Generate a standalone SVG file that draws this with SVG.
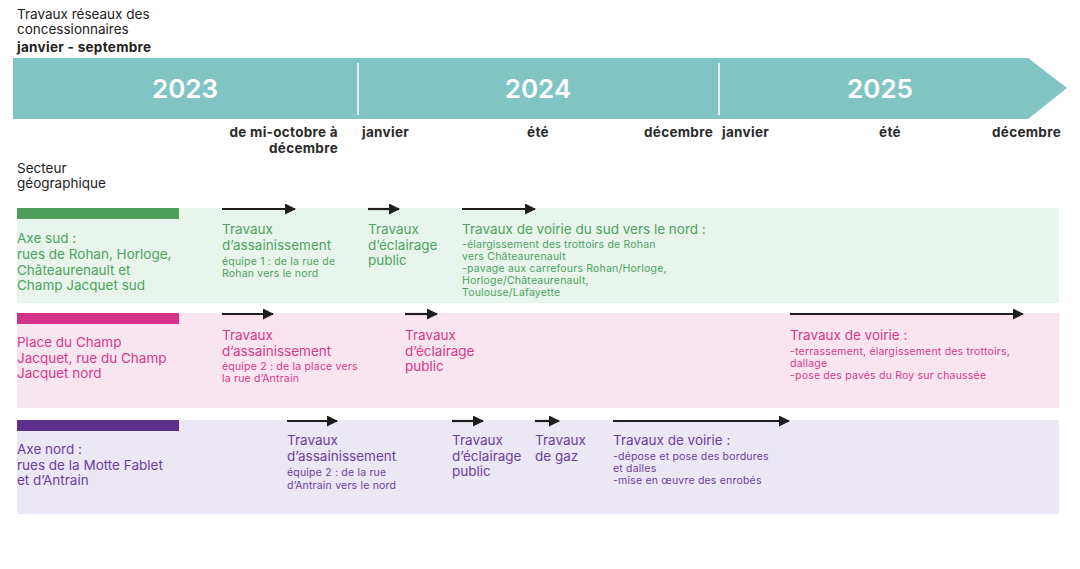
<svg xmlns="http://www.w3.org/2000/svg" width="1080" height="569" viewBox="0 0 1080 569">
<style>
text{font-family:Inter,"Noto Sans","Liberation Sans",sans-serif;}
.hdr{font-size:13.5px;fill:#222;}
.b{font-weight:700;letter-spacing:0.3px;}
.yr{font-size:26px;font-weight:600;fill:#fff;text-anchor:middle;}
.mo{font-size:13.5px;font-weight:700;fill:#2a2a2a;letter-spacing:0.3px;}
.t{font-size:13.5px;}
.s{font-size:10.5px;letter-spacing:0.2px;}
.g{fill:#4ea35e;}
.p{fill:#d6398c;}
.v{fill:#6b3f9c;}
.arr{stroke:#1e1e1e;stroke-width:2.2;fill:none;marker-end:url(#ah);}
</style>
<defs>
<marker id="ah" markerWidth="11" markerHeight="11" refX="10" refY="5.5" orient="auto" markerUnits="userSpaceOnUse">
<path d="M0,0 L11,5.5 L0,11 Z" fill="#1e1e1e"/>
</marker>
</defs>
<rect width="1080" height="569" fill="#fff"/>
<g id="header">
<text class="hdr" x="17" y="19">Travaux réseaux des</text>
<text class="hdr" x="17" y="34">concessionnaires</text>
<text class="hdr b" x="17" y="52">janvier - septembre</text>
<text class="hdr" x="17" y="173">Secteur</text>
<text class="hdr" x="17" y="188">géographique</text>
</g>
<g id="banner">
<path d="M13,58 L1028,58 L1067,88 L1028,119 L13,119 Z" fill="#80c4c4"/>
<line x1="358" y1="63" x2="358" y2="115" stroke="#fff" stroke-width="1.5"/>
<line x1="719" y1="63" x2="719" y2="115" stroke="#fff" stroke-width="1.5"/>
<text class="yr" x="185" y="98">2023</text>
<text class="yr" x="538" y="98">2024</text>
<text class="yr" x="880" y="98">2025</text>
</g>
<g id="months">
<text class="mo" x="338" y="137" text-anchor="end">de mi-octobre à</text>
<text class="mo" x="338" y="153" text-anchor="end">décembre</text>
<text class="mo" x="362" y="137">janvier</text>
<text class="mo" x="538" y="137" text-anchor="middle">été</text>
<text class="mo" x="713" y="137" text-anchor="end">décembre</text>
<text class="mo" x="722" y="137">janvier</text>
<text class="mo" x="890" y="137" text-anchor="middle">été</text>
<text class="mo" x="1061" y="137" text-anchor="end">décembre</text>
</g>
<g id="row-sud">
<rect x="17" y="208" width="1042" height="95" fill="#e7f5ec"/>
<rect x="17" y="208" width="162" height="11" fill="#4e9e5c"/>
<text class="t g" x="17" y="243">Axe sud :</text>
<text class="t g" x="17" y="259">rues de Rohan, Horloge,</text>
<text class="t g" x="17" y="275">Châteaurenault et</text>
<text class="t g" x="17" y="290">Champ Jacquet sud</text>
<text class="t g" x="222" y="234">Travaux</text>
<text class="t g" x="222" y="250">d’assainissement</text>
<text class="s g" x="222" y="265">équipe 1 : de la rue de</text>
<text class="s g" x="222" y="277">Rohan vers le nord</text>
<text class="t g" x="368" y="234">Travaux</text>
<text class="t g" x="368" y="250">d’éclairage</text>
<text class="t g" x="368" y="265">public</text>
<text class="t g" x="462" y="234">Travaux de voirie du sud vers le nord :</text>
<text class="s g" x="462" y="248">-élargissement des trottoirs de Rohan</text>
<text class="s g" x="462" y="260">vers Châteaurenault</text>
<text class="s g" x="462" y="272">-pavage aux carrefours Rohan/Horloge,</text>
<text class="s g" x="462" y="284">Horloge/Châteaurenault,</text>
<text class="s g" x="462" y="296">Toulouse/Lafayette</text>
</g>
<g id="row-champ">
<rect x="17" y="313" width="1042" height="95" fill="#f9e5f0"/>
<rect x="17" y="313" width="162" height="11" fill="#d5338a"/>
<text class="t p" x="17" y="347">Place du Champ</text>
<text class="t p" x="17" y="363">Jacquet, rue du Champ</text>
<text class="t p" x="17" y="378">Jacquet nord</text>
<text class="t p" x="222" y="340">Travaux</text>
<text class="t p" x="222" y="356">d’assainissement</text>
<text class="s p" x="222" y="370">équipe 2 : de la place vers</text>
<text class="s p" x="222" y="382">la rue d’Antrain</text>
<text class="t p" x="405" y="340">Travaux</text>
<text class="t p" x="405" y="356">d’éclairage</text>
<text class="t p" x="405" y="371">public</text>
<text class="t p" x="790" y="340">Travaux de voirie :</text>
<text class="s p" x="790" y="355">-terrassement, élargissement des trottoirs,</text>
<text class="s p" x="790" y="367">dallage</text>
<text class="s p" x="790" y="379">-pose des pavés du Roy sur chaussée</text>
</g>
<g id="row-nord">
<rect x="17" y="420" width="1042" height="94" fill="#ece7f4"/>
<rect x="17" y="420" width="162" height="11" fill="#5e2f8c"/>
<text class="t v" x="17" y="454">Axe nord :</text>
<text class="t v" x="17" y="470">rues de la Motte Fablet</text>
<text class="t v" x="17" y="485">et d’Antrain</text>
<text class="t v" x="287" y="445">Travaux</text>
<text class="t v" x="287" y="461">d’assainissement</text>
<text class="s v" x="287" y="476">équipe 2 : de la rue</text>
<text class="s v" x="287" y="489">d’Antrain vers le nord</text>
<text class="t v" x="452" y="445">Travaux</text>
<text class="t v" x="452" y="461">d’éclairage</text>
<text class="t v" x="452" y="476">public</text>
<text class="t v" x="535" y="445">Travaux</text>
<text class="t v" x="535" y="461">de gaz</text>
<text class="t v" x="613" y="445">Travaux de voirie :</text>
<text class="s v" x="613" y="460">-dépose et pose des bordures</text>
<text class="s v" x="613" y="472">et dalles</text>
<text class="s v" x="613" y="484">-mise en œuvre des enrobés</text>
</g>
<g id="connectors">
<line class="arr" x1="222" y1="209" x2="295" y2="209"/>
<line class="arr" x1="368" y1="209" x2="399" y2="209"/>
<line class="arr" x1="462" y1="209" x2="535" y2="209"/>
<line class="arr" x1="222" y1="314" x2="273" y2="314"/>
<line class="arr" x1="405" y1="314" x2="437" y2="314"/>
<line class="arr" x1="790" y1="314" x2="1023" y2="314"/>
<line class="arr" x1="287" y1="421" x2="337" y2="421"/>
<line class="arr" x1="452" y1="421" x2="483" y2="421"/>
<line class="arr" x1="535" y1="421" x2="559" y2="421"/>
<line class="arr" x1="613" y1="421" x2="789" y2="421"/>
</g>
</svg>
